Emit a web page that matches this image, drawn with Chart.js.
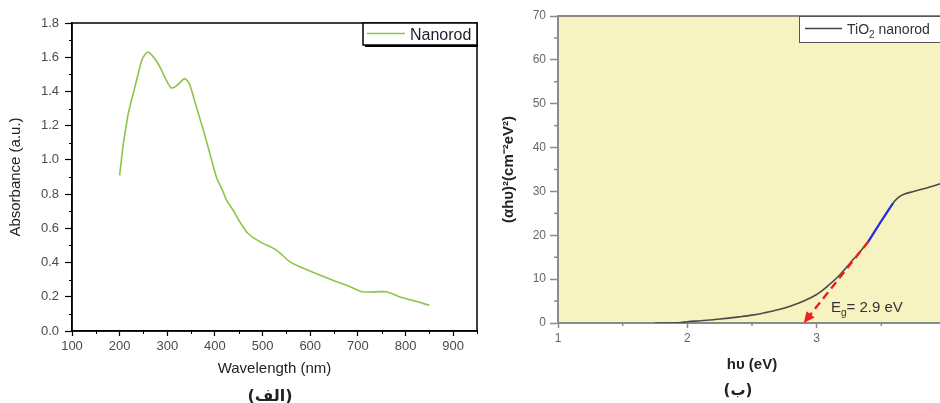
<!DOCTYPE html>
<html>
<head>
<meta charset="utf-8">
<script src="https://cdn.jsdelivr.net/npm/chart.js@4"></script>
<style>
  html, body { margin: 0; padding: 0; background: #fff; }
  #wrap { position: relative; width: 940px; height: 403px; overflow: hidden; }
  #absorb { position: absolute; left: 0; top: 0; }
  #tauc { position: absolute; left: 480px; top: 0; }
  .cap { position: absolute; width: 120px; text-align: center; font: bold 15px "DejaVu Sans", sans-serif; color: #222; line-height: 18px; }
</style>
</head>
<body>
<div id="wrap">
  <canvas id="absorb" width="480" height="403"></canvas>
  <canvas id="tauc" width="480" height="403"></canvas>
  <div class="cap" style="left:210px; top:387px; font-size:16px;">(الف)</div>
  <div class="cap" style="left:678px; top:381px;">(ب)</div>
</div>
<script>
/* Data: left panel, UV-vis absorbance */
const wavelength = [200, 208, 215, 218, 225, 236, 246, 253, 260, 274, 285, 299, 309, 320, 337, 347, 361, 375,
                    389, 403, 417, 424, 438, 452, 469, 494, 529, 557, 578, 612, 647, 680, 710, 759, 787, 820, 850];
const absorbance = [0.91, 1.10, 1.22, 1.27, 1.35, 1.47, 1.58, 1.615, 1.63, 1.59, 1.54, 1.46, 1.42, 1.435, 1.475, 1.44, 1.31, 1.18,
                    1.04, 0.90, 0.815, 0.766, 0.707, 0.639, 0.571, 0.522, 0.473, 0.405, 0.375, 0.336, 0.297, 0.263, 0.229, 0.229, 0.200, 0.175, 0.150];
const wlTicks = [100, 200, 300, 400, 500, 600, 700, 800, 900];
const absTicks = [0, 0.2, 0.4, 0.6, 0.8, 1.0, 1.2, 1.4, 1.6, 1.8];

/* Data: right panel, Tauc plot */
const photonEnergy = [1.75, 1.85, 1.95, 2.0, 2.1, 2.2, 2.3, 2.4, 2.5, 2.6, 2.7, 2.8, 2.9, 3.0, 3.08, 3.18, 3.28,
                      3.40, 3.49, 3.59, 3.63, 3.67, 3.75, 3.85, 3.95, 4.0];
const tauc = [0, 0, 0.1, 0.3, 0.5, 0.75, 1.05, 1.4, 1.8, 2.35, 3.0, 3.9, 5.0, 6.5, 8.3, 11.0, 14.4,
              18.6, 22.8, 27.3, 28.6, 29.3, 30.0, 30.8, 31.7, 32.3];
const linearRegion = [3.40, 3.59];          // blue segment
const bandGap = 2.9;                        // x-intercept of the fit
const fitX = [3.40, bandGap];
const fitY = [18.6, 0];
const eVTicks = [1, 2, 3, 4];
const taucTicks = [0, 10, 20, 30, 40, 50, 60, 70];

Chart.defaults.font.family = '"Liberation Sans", Arial, sans-serif';
Chart.defaults.animation = false;

const pts = (xs, ys) => xs.map((x, i) => ({ x: x, y: ys[i] }));
const midpoints = t => t.slice(1).map((v, i) => (v + t[i]) / 2);

function tick(ctx, x1, y1, x2, y2) {
    ctx.beginPath(); ctx.moveTo(x1, y1); ctx.lineTo(x2, y2); ctx.stroke();
}

/* Left chart */
const absorbPlugin = {
    id: 'absorbFrame',
    afterDraw(chart) {
        const { ctx, chartArea: a, scales: { x, y } } = chart;
        ctx.save();
        ctx.strokeStyle = '#000';
        ctx.lineWidth = 1.5;
        ctx.strokeRect(a.left, a.top, a.right - a.left, a.bottom - a.top);
        // minor ticks
        ctx.lineWidth = 1;
        midpoints(wlTicks).concat([950]).forEach(v => {
            const px = Math.round(x.getPixelForValue(v)) + 0.5;
            tick(ctx, px, a.bottom, px, a.bottom + 3);
        });
        midpoints(absTicks).forEach(v => {
            const py = Math.round(y.getPixelForValue(v)) + 0.5;
            tick(ctx, a.left - 3, py, a.left, py);
        });
        // legend
        const bw = 114, bh = 22, bx = a.right - bw, by = a.top;
        ctx.fillStyle = '#fff';
        ctx.fillRect(bx, by, bw, bh);
        ctx.lineWidth = 1.5;
        ctx.strokeRect(bx, by, bw, bh);
        ctx.lineWidth = 2;
        tick(ctx, bx + 2, by + bh + 1, bx + bw + 1, by + bh + 1);
        ctx.strokeStyle = '#8dc44a';
        ctx.lineWidth = 1.5;
        tick(ctx, bx + 4, by + 10.5, bx + 42, by + 10.5);
        ctx.fillStyle = '#1e1e2a';
        ctx.font = '16px "Liberation Sans", Arial, sans-serif';
        ctx.textBaseline = 'alphabetic';
        ctx.fillText('Nanorod', bx + 47, by + 16.5);
        ctx.restore();
    }
};

new Chart('absorb', {
    type: 'line',
    data: {
        datasets: [{
            label: 'Nanorod',
            data: pts(wavelength, absorbance),
            borderColor: '#8dc44a',
            borderWidth: 1.6,
            pointRadius: 0,
            tension: 0.25
        }]
    },
    options: {
        responsive: false,
        layout: { padding: { top: 23, right: 3, left: 0, bottom: 0 } },
        plugins: { legend: { display: false }, tooltip: { enabled: false } },
        scales: {
            x: {
                type: 'linear', min: 100, max: 950,
                afterBuildTicks: s => { s.ticks = wlTicks.map(v => ({ value: v })); },
                afterFit: s => { s.height = 72; },
                ticks: { color: '#4a4a4a', font: { size: 13 }, padding: 3, maxRotation: 0, autoSkip: false },
                grid: { drawOnChartArea: false, tickLength: 5, color: '#000', tickColor: '#000', tickWidth: 1.2 },
                border: { color: '#000', width: 1.5 },
                title: { display: true, text: 'Wavelength (nm)', color: '#222', font: { size: 15 }, padding: { top: 0, bottom: 25 } }
            },
            y: {
                type: 'linear', min: 0, max: 1.8,
                afterBuildTicks: s => { s.ticks = absTicks.map(v => ({ value: v })); },
                afterFit: s => { s.width = 72; },
                ticks: { color: '#4a4a4a', font: { size: 13 }, padding: 6, callback: v => v.toFixed(1) },
                grid: { drawOnChartArea: false, tickLength: 7, color: '#000', tickColor: '#000', tickWidth: 1.2 },
                border: { color: '#000', width: 1.5 },
                title: { display: true, text: 'Absorbance (a.u.)', color: '#222', font: { size: 15 }, padding: { top: 7, bottom: 0 } }
            }
        }
    },
    plugins: [absorbPlugin]
});

/* Right chart */
const taucPlugin = {
    id: 'taucFrame',
    beforeDraw(chart) {
        const { ctx, chartArea: a } = chart;
        ctx.save();
        ctx.fillStyle = '#f7f3c1';
        ctx.fillRect(a.left, a.top, a.right - a.left, a.bottom - a.top);
        ctx.restore();
    },
    afterDatasetsDraw(chart) {
        const { ctx, scales: { x, y } } = chart;
        // arrow head at the band-gap intercept
        const x0 = x.getPixelForValue(fitX[0]), y0 = y.getPixelForValue(fitY[0]);
        const x1 = x.getPixelForValue(fitX[1]), y1 = y.getPixelForValue(fitY[1]);
        const ang = Math.atan2(y1 - y0, x1 - x0);
        ctx.save();
        ctx.translate(x1, y1);
        ctx.rotate(ang);
        ctx.fillStyle = '#f01e1e';
        ctx.beginPath();
        ctx.moveTo(0, 0); ctx.lineTo(-11, -5); ctx.lineTo(-11, 5); ctx.closePath();
        ctx.fill();
        ctx.restore();
    },
    afterDraw(chart) {
        const { ctx, chartArea: a, scales: { x, y } } = chart;
        ctx.save();
        ctx.strokeStyle = '#8a8a8a';
        ctx.lineWidth = 2;
        tick(ctx, a.left - 1, a.top, a.right, a.top);
        tick(ctx, a.right, a.top, a.right, a.bottom);
        // minor ticks
        ctx.lineWidth = 1.5;
        midpoints(eVTicks).forEach(v => {
            const px = x.getPixelForValue(v);
            tick(ctx, px, a.bottom, px, a.bottom + 3);
        });
        midpoints(taucTicks).forEach(v => {
            const py = y.getPixelForValue(v);
            tick(ctx, a.left - 4, py, a.left, py);
        });
        // E_g label
        const ex = x.getPixelForValue(3.11), ey = y.getPixelForValue(2.5);
        ctx.fillStyle = '#333';
        ctx.textBaseline = 'alphabetic';
        ctx.font = '15px "Liberation Sans", Arial, sans-serif';
        ctx.fillText('E', ex, ey);
        let w = ctx.measureText('E').width;
        ctx.font = '10px "Liberation Sans", Arial, sans-serif';
        ctx.fillText('g', ex + w, ey + 4);
        w += ctx.measureText('g').width;
        ctx.font = '15px "Liberation Sans", Arial, sans-serif';
        ctx.fillText('= ' + bandGap.toFixed(1) + ' eV', ex + w, ey);
        // legend
        const bw = 147, bh = 26, bx = a.right - bw, by = a.top;
        ctx.fillStyle = '#fff';
        ctx.fillRect(bx, by, bw, bh);
        ctx.strokeStyle = '#555';
        ctx.lineWidth = 1;
        ctx.strokeRect(bx + 0.5, by + 0.5, bw, bh);
        ctx.strokeStyle = '#444';
        ctx.lineWidth = 1.5;
        tick(ctx, bx + 6, by + 12.5, bx + 43, by + 12.5);
        ctx.fillStyle = '#333';
        ctx.font = '14px "Liberation Sans", Arial, sans-serif';
        ctx.fillText('TiO', bx + 48, by + 18);
        w = ctx.measureText('TiO').width;
        ctx.font = '10px "Liberation Sans", Arial, sans-serif';
        ctx.fillText('2', bx + 48 + w, by + 22);
        w += ctx.measureText('2').width;
        ctx.font = '14px "Liberation Sans", Arial, sans-serif';
        ctx.fillText(' nanorod', bx + 48 + w, by + 18);
        ctx.restore();
    }
};

const inRegion = photonEnergy.map((e, i) => ({ x: e, y: tauc[i] }))
    .filter(p => p.x >= linearRegion[0] && p.x <= linearRegion[1]);

new Chart('tauc', {
    type: 'line',
    data: {
        datasets: [
            {
                label: 'TiO2 nanorod',
                data: pts(photonEnergy, tauc),
                borderColor: '#4a4a4a',
                borderWidth: 1.6,
                pointRadius: 0,
                tension: 0.3,
                order: 3
            },
            {
                label: 'linear region',
                data: inRegion,
                borderColor: '#2030f0',
                borderWidth: 2.2,
                pointRadius: 0,
                tension: 0.3,
                order: 2
            },
            {
                label: 'fit',
                data: pts(fitX, fitY),
                borderColor: '#f01e1e',
                borderWidth: 2.4,
                borderDash: [8, 5],
                pointRadius: 0,
                clip: false,
                order: 1
            }
        ]
    },
    options: {
        responsive: false,
        layout: { padding: { top: 16, right: 14, left: 0, bottom: 0 } },
        plugins: { legend: { display: false }, tooltip: { enabled: false } },
        scales: {
            x: {
                type: 'linear', min: 1, max: 4,
                afterBuildTicks: s => { s.ticks = eVTicks.map(v => ({ value: v })); },
                afterFit: s => { s.height = 80; },
                ticks: { color: '#666', font: { size: 12 }, padding: 3, maxRotation: 0, autoSkip: false },
                grid: { drawOnChartArea: false, tickLength: 5, color: '#8a8a8a', tickColor: '#8a8a8a', tickWidth: 1.5 },
                border: { color: '#8a8a8a', width: 2 },
                title: { display: true, text: 'h\u03c5 (eV)', color: '#222', font: { size: 15, weight: 'bold' }, padding: { top: 0, bottom: 29 } }
            },
            y: {
                type: 'linear', min: 0, max: 70,
                afterBuildTicks: s => { s.ticks = taucTicks.map(v => ({ value: v })); },
                afterFit: s => { s.width = 78; },
                ticks: { color: '#666', font: { size: 12 }, padding: 4 },
                grid: { drawOnChartArea: false, tickLength: 8, color: '#8a8a8a', tickColor: '#8a8a8a', tickWidth: 1.5 },
                border: { color: '#8a8a8a', width: 2 },
                title: { display: true, text: '(\u03b1h\u03c5)\u00b2(cm\u207b\u00b2eV\u00b2)', color: '#222', font: { size: 15, weight: 'bold' }, padding: { top: 20, bottom: 0 } }
            }
        }
    },
    plugins: [taucPlugin]
});
</script>
</body>
</html>
